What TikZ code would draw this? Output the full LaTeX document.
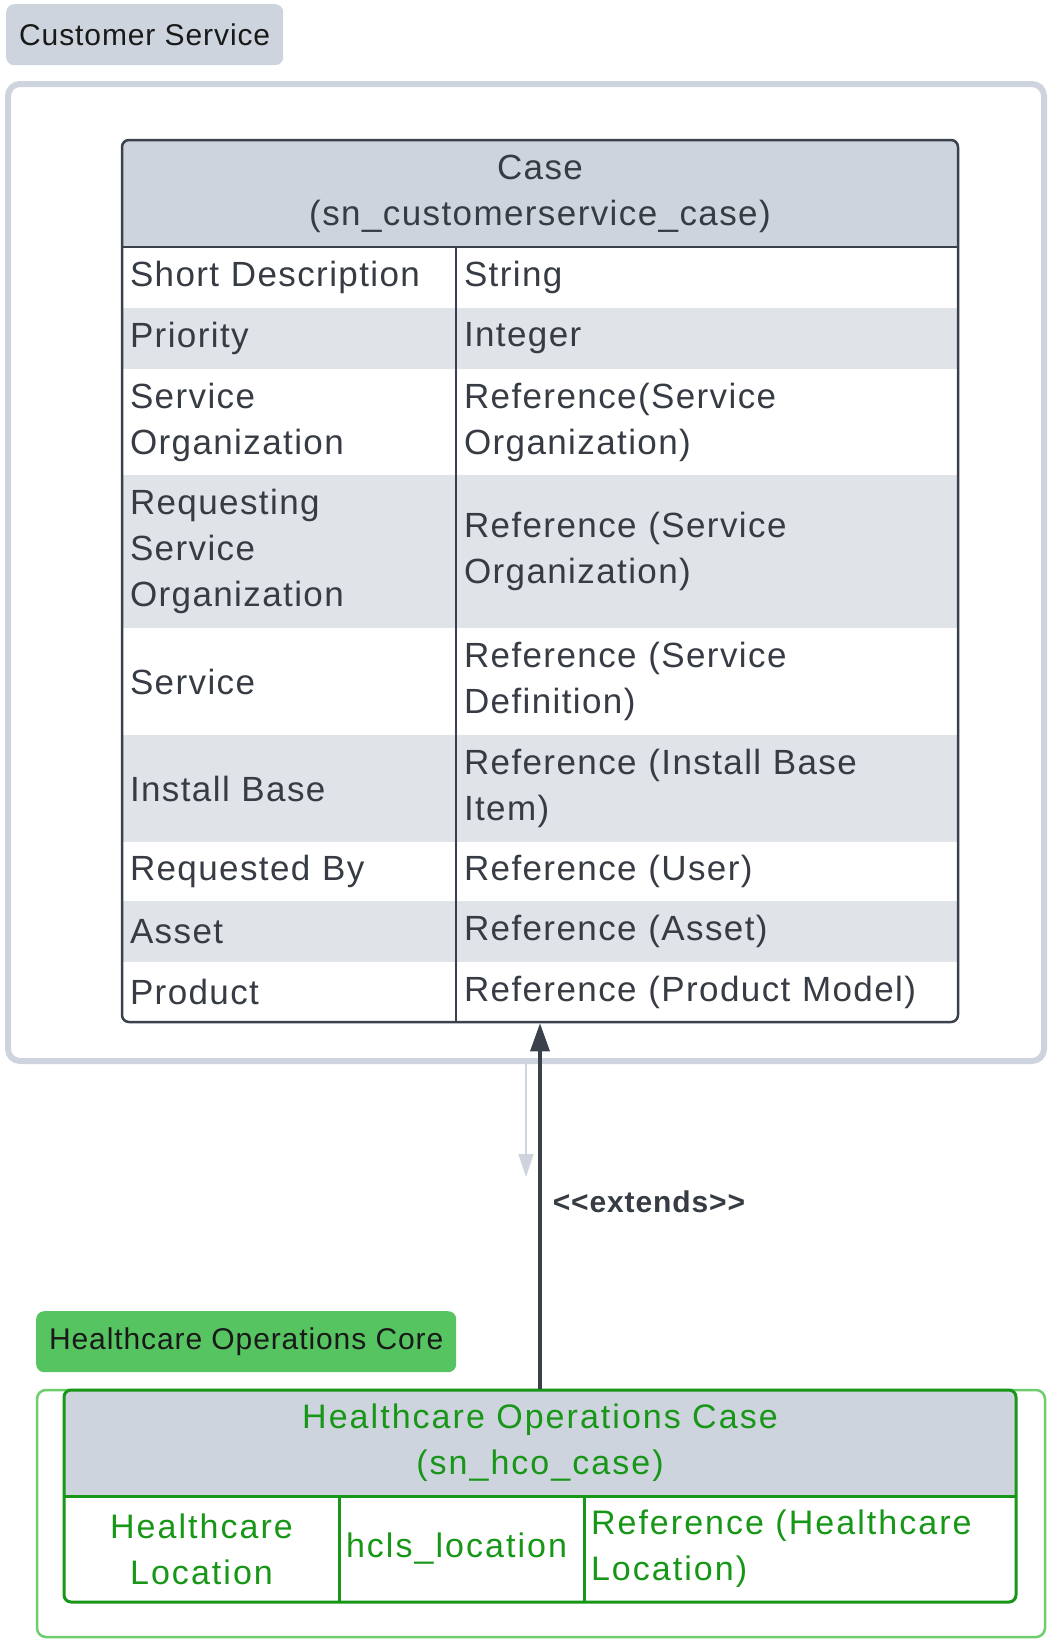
\documentclass[tikz,border=0pt]{standalone}
\usepackage{fontspec}
\setmainfont{Liberation Sans}
\newfontfamily\cellfont[LetterSpace=4]{Liberation Sans}
\newfontfamily\hcofont[LetterSpace=6]{Liberation Sans}
\newfontfamily\tagfont[LetterSpace=3]{Liberation Sans}
\usetikzlibrary{arrows.meta,positioning,fit}
\definecolor{slate}{RGB}{58,65,77}
\definecolor{txtgray}{RGB}{55,60,68}
\definecolor{hdgray}{RGB}{206,212,221}
\definecolor{rowgray}{RGB}{224,227,231}
\definecolor{tagGreen}{RGB}{86,196,96}
\definecolor{hcoGreen}{RGB}{24,150,24}
\definecolor{hcoLight}{RGB}{110,206,110}
\tikzset{
  cellf/.style  = {font=\cellfont\fontsize{35}{46}\selectfont},
  hcof/.style   = {font=\hcofont\fontsize{34}{46}\selectfont},
  tagf/.style   = {font=\tagfont\fontsize{30}{36}\selectfont},
  csbox/.style  = {draw=hdgray, line width=6pt, rounded corners=12pt,
                   outer sep=0pt, anchor=north west},
  hcobox/.style = {draw=hcoLight, line width=2.5pt, rounded corners=9pt,
                   outer sep=0pt, anchor=north west},
  cstag/.style  = {fill=hdgray, rounded corners=8pt, minimum width=277pt,
                   minimum height=61pt, anchor=north west, text=black!90, tagf},
  hcotag/.style = {cstag, fill=tagGreen, minimum width=420pt},
  casehd/.style = {fill=hdgray, text=txtgray, align=center, text width=820pt,
                   minimum height=107pt, inner xsep=8pt, inner ysep=0pt,
                   outer sep=0pt, anchor=north west, cellf},
  lcell/.style  = {text=txtgray, align=left, text width=318pt, inner xsep=8pt,
                   inner ysep=0pt, outer sep=0pt, cellf},
  rcell/.style  = {lcell, text width=486pt},
  alt/.style    = {fill=rowgray},
  tbl/.style    = {draw=slate, line width=2.5pt, rounded corners=7pt, inner sep=0pt},
  ln/.style     = {draw=slate, line width=2.5pt},
  hcohd/.style  = {fill=hdgray, text=hcoGreen, align=center, text width=938pt,
                   minimum height=106pt, inner xsep=7pt, inner ysep=0pt,
                   outer sep=0pt, anchor=north west, hcof},
  hcell/.style  = {text=hcoGreen, align=left, inner xsep=7pt, inner ysep=0pt,
                   outer sep=0pt, minimum height=106pt, hcof},
  htbl/.style   = {draw=hcoGreen, line width=3pt, rounded corners=7pt, inner sep=0pt},
  hln/.style    = {draw=hcoGreen, line width=3pt},
  extarr/.style = {-{Triangle[length=28pt, width=19pt]}, draw=slate, line width=3.5pt},
  stubarr/.style= {-{Triangle[length=23pt, width=15pt]}, draw=hdgray, line width=1.5pt},
  elbl/.style   = {font=\tagfont\bfseries\fontsize{30}{36}\selectfont, text=txtgray,
                   inner sep=0pt}
}

\begin{document}
\begin{tikzpicture}[x=1pt, y=-1pt]
  \useasboundingbox (0,0) rectangle (1051,1646);

  % containers and their tags
  \node[csbox, minimum width=1036pt, minimum height=977pt] (cs) at (8,84) {};
  \node[cstag] (cstag) at (6,4) {Customer Service};
  \node[hcobox, minimum width=1008pt, minimum height=247pt] (hco) at (37,1390) {};
  \node[hcotag] (hcotag) at (36,1311) {Healthcare Operations Core};

  % Case table
  \begin{scope}
    \clip[rounded corners=7pt] (122,140) rectangle (958,1022);
    \node[casehd] (casehd) at (122,140) {Case\\(sn\_customerservice\_case)};
  \end{scope}
  \node[lcell, minimum height=61pt, below=0pt of casehd.south west, anchor=north west] (sd) {Short Description};
  \node[rcell, minimum height=61pt, right=0pt of sd] (sdT) {String};
  \node[lcell, alt, minimum height=61pt, below=0pt of sd] (prio) {Priority};
  \node[rcell, alt, minimum height=61pt, right=0pt of prio] (prioT) {Integer};
  \node[lcell, minimum height=106pt, below=0pt of prio] (sorg) {Service\\Organization};
  \node[rcell, minimum height=106pt, right=0pt of sorg] (sorgT) {Reference(Service\\Organization)};
  \node[lcell, alt, minimum height=153pt, below=0pt of sorg] (rsorg) {Requesting\\Service\\Organization};
  \node[rcell, alt, minimum height=153pt, right=0pt of rsorg] (rsorgT) {Reference (Service\\Organization)};
  \node[lcell, minimum height=107pt, below=0pt of rsorg] (serv) {Service};
  \node[rcell, minimum height=107pt, right=0pt of serv] (servT) {Reference (Service\\Definition)};
  \node[lcell, alt, minimum height=107pt, below=0pt of serv] (ib) {Install Base};
  \node[rcell, alt, minimum height=107pt, right=0pt of ib] (ibT) {Reference (Install Base\\Item)};
  \node[lcell, minimum height=59pt, below=0pt of ib] (rby) {Requested By};
  \node[rcell, minimum height=59pt, right=0pt of rby] (rbyT) {Reference (User)};
  \node[lcell, alt, minimum height=61pt, below=0pt of rby] (asset) {Asset};
  \node[rcell, alt, minimum height=61pt, right=0pt of asset] (assetT) {Reference (Asset)};
  \node[lcell, minimum height=60pt, below=0pt of asset] (prod) {Product};
  \node[rcell, minimum height=60pt, right=0pt of prod] (prodT) {Reference (Product Model)};
  \draw[ln] (casehd.south west) -- (casehd.south east);
  \draw[ln] (sd.north east) -- (prod.south east);
  \node[tbl, fit=(casehd)(prodT)] (casetbl) {};

  % Healthcare Operations Case table
  \begin{scope}
    \clip[rounded corners=7pt] (64,1390) rectangle (1016,1602);
    \node[hcohd] (hcohd) at (64,1390) {Healthcare Operations Case\\(sn\_hco\_case)};
  \end{scope}
  \node[hcell, align=center, text width=261pt, below=0pt of hcohd.south west, anchor=north west] (hloc) {Healthcare\\Location};
  \node[hcell, text width=231pt, right=0pt of hloc] (hlocN) {hcls\_location};
  \node[hcell, text width=418pt, right=0pt of hlocN] (hlocT) {Reference (Healthcare\\Location)};
  \draw[hln] (hcohd.south west) -- (hcohd.south east);
  \draw[hln] (hloc.north east) -- (hloc.south east);
  \draw[hln] (hlocN.north east) -- (hlocN.south east);
  \node[htbl, fit=(hcohd)(hlocT)] (hcotbl) {};

  % connectors
  \coordinate (stub) at (526,1177);
  \draw[stubarr] (cs.south -| stub) -- (stub);
  \draw[extarr] (hcotbl.north) -- node[elbl, pos=0.512, right=11pt] {<{}<extends>{}>} (casetbl.south);
\end{tikzpicture}
\end{document}
